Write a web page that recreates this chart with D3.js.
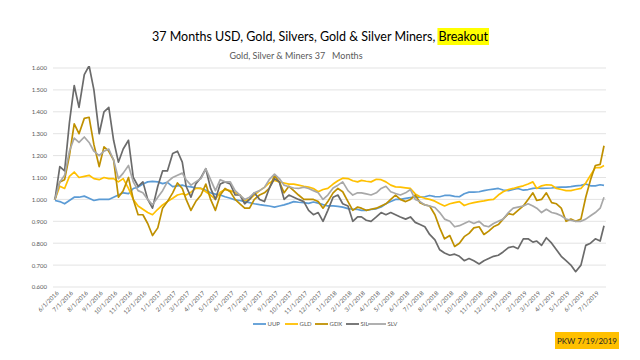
<!DOCTYPE html>
<html><head><meta charset="utf-8">
<script src="https://cdn.jsdelivr.net/npm/d3@7"></script>
<style>body{margin:0;background:#fff}svg{display:block}</style>
</head><body><svg id="c" width="640" height="360"></svg>
<script>
const dates = ["2016-06-01","2016-06-11","2016-06-21","2016-07-01","2016-07-11","2016-07-21","2016-08-01","2016-08-11","2016-08-21","2016-09-01","2016-09-11","2016-09-21","2016-10-01","2016-10-11","2016-10-21","2016-11-01","2016-11-11","2016-11-21","2016-12-01","2016-12-11","2016-12-21",
"2017-01-01","2017-01-11","2017-01-21","2017-02-01","2017-02-11","2017-02-21","2017-03-01","2017-03-11","2017-03-21","2017-04-01","2017-04-11","2017-04-21","2017-05-01","2017-05-11","2017-05-21","2017-06-01","2017-06-11","2017-06-21","2017-07-01","2017-07-11","2017-07-21","2017-08-01","2017-08-11","2017-08-21","2017-09-01","2017-09-11","2017-09-21","2017-10-01","2017-10-11","2017-10-21","2017-11-01","2017-11-11","2017-11-21","2017-12-01","2017-12-11","2017-12-21",
"2018-01-01","2018-01-11","2018-01-21","2018-02-01","2018-02-11","2018-02-21","2018-03-01","2018-03-11","2018-03-21","2018-04-01","2018-04-11","2018-04-21","2018-05-01","2018-05-11","2018-05-21","2018-06-01","2018-06-11","2018-06-21","2018-07-01","2018-07-11","2018-07-21","2018-08-01","2018-08-11","2018-08-21","2018-09-01","2018-09-11","2018-09-21","2018-10-01","2018-10-11","2018-10-21","2018-11-01","2018-11-11","2018-11-21","2018-12-01","2018-12-11","2018-12-21",
"2019-01-01","2019-01-11","2019-01-21","2019-02-01","2019-02-11","2019-02-21","2019-03-01","2019-03-11","2019-03-21","2019-04-01","2019-04-11","2019-04-21","2019-05-01","2019-05-11","2019-05-21","2019-06-01","2019-06-11","2019-06-21","2019-07-01","2019-07-11","2019-07-19"];

const UUP = [0.995,0.99,0.98,0.995,1.01,1.01,1.015,1.005,0.995,1.0,
1.0,1.0,1.01,1.02,1.03,1.026,1.05,1.056,1.07,1.08,
1.082,1.08,1.072,1.078,1.058,1.062,1.065,1.06,1.057,1.053,
1.05,1.042,1.03,1.024,1.02,1.012,1.005,0.998,0.995,0.99,
0.985,0.98,0.976,0.973,0.97,0.965,0.97,0.975,0.982,0.99,
0.987,0.985,0.982,0.988,0.983,0.976,0.97,0.97,0.968,0.965,
0.958,0.955,0.954,0.95,0.95,0.954,0.957,0.965,0.98,0.99,
1.0,1.0,1.005,1.008,1.01,1.01,1.012,1.018,1.013,1.012,
1.018,1.018,1.014,1.012,1.026,1.033,1.033,1.035,1.04,1.044,
1.047,1.05,1.043,1.04,1.046,1.05,1.042,1.045,1.05,1.052,
1.05,1.051,1.052,1.055,1.056,1.056,1.058,1.062,1.064,1.07,
1.062,1.062,1.067,1.064];

const GLD = [1.0,1.06,1.05,1.105,1.125,1.10,1.105,1.11,1.095,1.09,
1.10,1.095,1.095,1.08,1.095,1.05,1.0,0.97,0.955,0.94,
0.93,0.955,0.975,0.99,1.005,1.02,1.026,1.02,1.033,1.05,
1.05,1.035,1.02,1.0,1.033,1.045,1.04,1.03,1.02,0.995,
1.0,1.02,1.04,1.055,1.075,1.087,1.08,1.075,1.07,1.07,
1.065,1.06,1.056,1.05,1.035,1.045,1.05,1.07,1.085,1.097,
1.095,1.085,1.08,1.087,1.083,1.08,1.092,1.09,1.08,1.065,
1.057,1.056,1.053,1.05,1.025,1.012,1.005,1.0,0.992,0.98,
0.97,0.98,0.985,0.99,0.972,0.98,0.985,0.99,0.993,0.998,
1.0,1.02,1.035,1.045,1.05,1.056,1.062,1.07,1.08,1.05,
1.062,1.067,1.065,1.05,1.045,1.04,1.04,1.045,1.05,1.075,
1.11,1.145,1.145,1.155];

const GDX = [1.0,1.08,1.09,1.20,1.345,1.30,1.37,1.375,1.25,1.15,
1.24,1.22,1.18,1.01,1.04,1.10,1.0,0.93,0.93,0.89,
0.835,0.87,0.96,0.99,1.03,1.075,1.05,1.0,0.95,0.99,
1.02,1.07,1.0,0.95,1.02,1.05,1.035,1.0,0.98,0.96,
0.96,1.0,1.02,1.03,1.05,1.11,1.08,1.03,1.06,1.04,
1.02,1.0,1.0,1.0,0.99,0.96,0.99,1.03,1.05,1.035,
0.99,0.95,0.965,0.96,0.95,0.955,0.96,0.97,0.98,1.0,
1.02,1.0,0.99,1.0,1.02,0.985,0.975,0.97,0.93,0.87,
0.82,0.835,0.785,0.80,0.83,0.845,0.87,0.875,0.84,0.855,
0.875,0.885,0.91,0.935,0.93,0.95,0.97,1.0,1.03,0.995,
1.0,1.03,0.985,0.98,0.96,0.90,0.91,0.90,0.91,1.01,
1.09,1.155,1.16,1.245];

const SIL = [1.0,1.15,1.13,1.35,1.52,1.42,1.57,1.61,1.50,1.30,
1.40,1.42,1.27,1.17,1.23,1.27,1.10,1.06,1.08,1.0,
0.96,1.06,1.13,1.13,1.21,1.22,1.17,1.06,1.01,1.07,
1.10,1.14,1.05,1.0,1.07,1.08,1.07,1.02,1.02,0.98,
1.0,1.03,1.0,0.99,1.05,1.095,1.08,1.0,1.02,1.01,
1.0,0.99,0.95,0.93,0.94,0.90,0.95,1.01,1.02,0.98,
0.97,0.90,0.92,0.92,0.905,0.90,0.92,0.94,0.93,0.94,
0.93,0.92,0.91,0.92,0.895,0.885,0.875,0.84,0.815,0.77,
0.755,0.745,0.75,0.74,0.72,0.73,0.72,0.705,0.72,0.73,
0.74,0.745,0.76,0.78,0.785,0.775,0.82,0.82,0.805,0.81,
0.79,0.825,0.80,0.77,0.74,0.72,0.70,0.67,0.70,0.79,
0.80,0.82,0.81,0.88];

const SLV = [1.0,1.08,1.11,1.22,1.28,1.26,1.285,1.26,1.22,1.20,
1.22,1.23,1.18,1.095,1.12,1.155,1.08,1.04,1.03,1.0,
0.975,1.01,1.04,1.08,1.10,1.11,1.12,1.09,1.065,1.08,
1.095,1.14,1.09,1.04,1.09,1.08,1.08,1.04,1.02,1.0,
1.01,1.03,1.04,1.055,1.09,1.115,1.095,1.065,1.058,1.052,
1.05,1.056,1.05,1.04,1.03,1.0,1.02,1.052,1.065,1.08,
1.04,1.02,1.03,1.03,1.025,1.02,1.03,1.05,1.06,1.035,
1.027,1.02,1.03,1.045,1.0,0.99,0.975,0.97,0.963,0.94,
0.91,0.9,0.875,0.88,0.89,0.9,0.89,0.9,0.88,0.875,
0.89,0.9,0.91,0.94,0.96,0.965,0.97,0.98,0.97,0.96,
0.94,0.955,0.94,0.935,0.925,0.91,0.905,0.9,0.9,0.91,
0.925,0.94,0.96,1.01];

const seriesNames = ["UUP","GLD","GDX","SIL","SLV"];
const seriesColors = ["#5b9bd5","#ffc000","#bf9000","#6b6b6b","#a8a8a8"];
const seriesValues = [UUP, GLD, GDX, SIL, SLV];

const tickLabels = ["6/1/2016","7/1/2016","8/1/2016","9/1/2016","10/1/2016","11/1/2016","12/1/2016",
"1/1/2017","2/1/2017","3/1/2017","4/1/2017","5/1/2017","6/1/2017","7/1/2017","8/1/2017","9/1/2017","10/1/2017","11/1/2017","12/1/2017",
"1/1/2018","2/1/2018","3/1/2018","4/1/2018","5/1/2018","6/1/2018","7/1/2018","8/1/2018","9/1/2018","10/1/2018","11/1/2018","12/1/2018",
"1/1/2019","2/1/2019","3/1/2019","4/1/2019","5/1/2019","6/1/2019","7/1/2019"];
const yTicks = [0.6,0.7,0.8,0.9,1.0,1.1,1.2,1.3,1.4,1.5,1.6];

const svg = d3.select("#c");
const font = "Lato, 'Open Sans', sans-serif";
const parseISO = d3.timeParse("%Y-%m-%d");
const parseTick = d3.timeParse("%m/%d/%Y");
const dts = dates.map(parseISO);

const x = d3.scaleTime().domain([dts[0], dts[dts.length-1]]).range([55, 604]);
const y = d3.scaleLinear().domain([0.6, 1.6]).range([287, 68]);

// title
const title = svg.append("text").attr("x", 320).attr("y", 41).attr("text-anchor","middle")
  .style("font-family", font).style("font-size","12.5px").attr("fill","#000");
title.append("tspan").text("37 Months USD, Gold, Silvers, Gold & Silver Miners, ");
title.append("tspan").text("Breakout");
const full = title.node();
const nChars = full.getNumberOfChars();
const startIdx = nChars - 8;
const st = full.getStartPositionOfChar(startIdx);
const bw = full.getSubStringLength(startIdx, 8);
svg.insert("rect", "text").attr("x", st.x - 1).attr("y", 28).attr("width", bw + 2).attr("height", 17).attr("fill", "#ffff00");

svg.append("text").attr("x", 296).attr("y", 59).attr("text-anchor","middle")
  .attr("xml:space","preserve").style("white-space","pre")
  .style("font-family", font).style("font-size","9px").attr("fill","#595959")
  .text("Gold, Silver & Miners 37   Months");

// grid
svg.append("g").selectAll("line").data(yTicks).join("line")
  .attr("x1", 53).attr("x2", 606).attr("y1", d => y(d)).attr("y2", d => y(d))
  .attr("stroke", "#d9d9d9").attr("stroke-width", 0.75);

// y axis
const yAxis = d3.axisLeft(y).tickValues(yTicks).tickFormat(d3.format(".3f")).tickSize(0).tickPadding(0);
const yg = svg.append("g").attr("transform","translate(47,0)").call(yAxis);
yg.select(".domain").remove();
yg.selectAll("text").style("font-family", font).style("font-size","6px").attr("fill","#595959");

// x axis
const xAxis = d3.axisBottom(x).tickValues(tickLabels.map(parseTick)).tickFormat((d,i) => tickLabels[i]).tickSize(0);
const xg = svg.append("g").attr("transform","translate(0,290)").call(xAxis);
xg.select(".domain").remove();
xg.selectAll("text").style("font-family", font).style("font-size","6px").attr("fill","#595959")
  .attr("text-anchor","end").attr("dy","0.35em").attr("y", 3).attr("x", 0)
  .attr("transform","rotate(-45)");

// lines
svg.append("clipPath").attr("id","clip").append("rect").attr("x",50).attr("y",66).attr("width",560).attr("height",224);
const line = d3.line().x((d,i) => x(dts[i])).y(d => y(d));
const lg = svg.append("g").attr("clip-path","url(#clip)");
seriesValues.forEach((vals, si) => {
  lg.append("path").datum(vals).attr("d", line).attr("fill","none")
    .attr("stroke", seriesColors[si]).attr("stroke-width", 1.7).attr("stroke-linejoin","round");
});

// legend
const legX = [253, 285, 315, 346, 368];
const leg = svg.append("g");
seriesNames.forEach((n, i) => {
  const gx = legX[i];
  const w = (i === 4) ? 18 : 13;
  leg.append("line").attr("x1", gx).attr("x2", gx + w).attr("y1", 324).attr("y2", 324)
    .attr("stroke", seriesColors[i]).attr("stroke-width", 1.8);
  leg.append("text").attr("x", gx + w + 1.5).attr("y", 326).style("font-family", font)
    .style("font-size","6px").attr("fill","#595959").text(n);
});

// PKW box
svg.append("rect").attr("x",555).attr("y",332).attr("width",64).attr("height",17).attr("fill","#ffc000");
svg.append("text").attr("x",587).attr("y",343.5).attr("text-anchor","middle").style("font-family", font)
  .style("font-size","8px").attr("fill","#262626").text("PKW 7/19/2019");
</script></body></html>
